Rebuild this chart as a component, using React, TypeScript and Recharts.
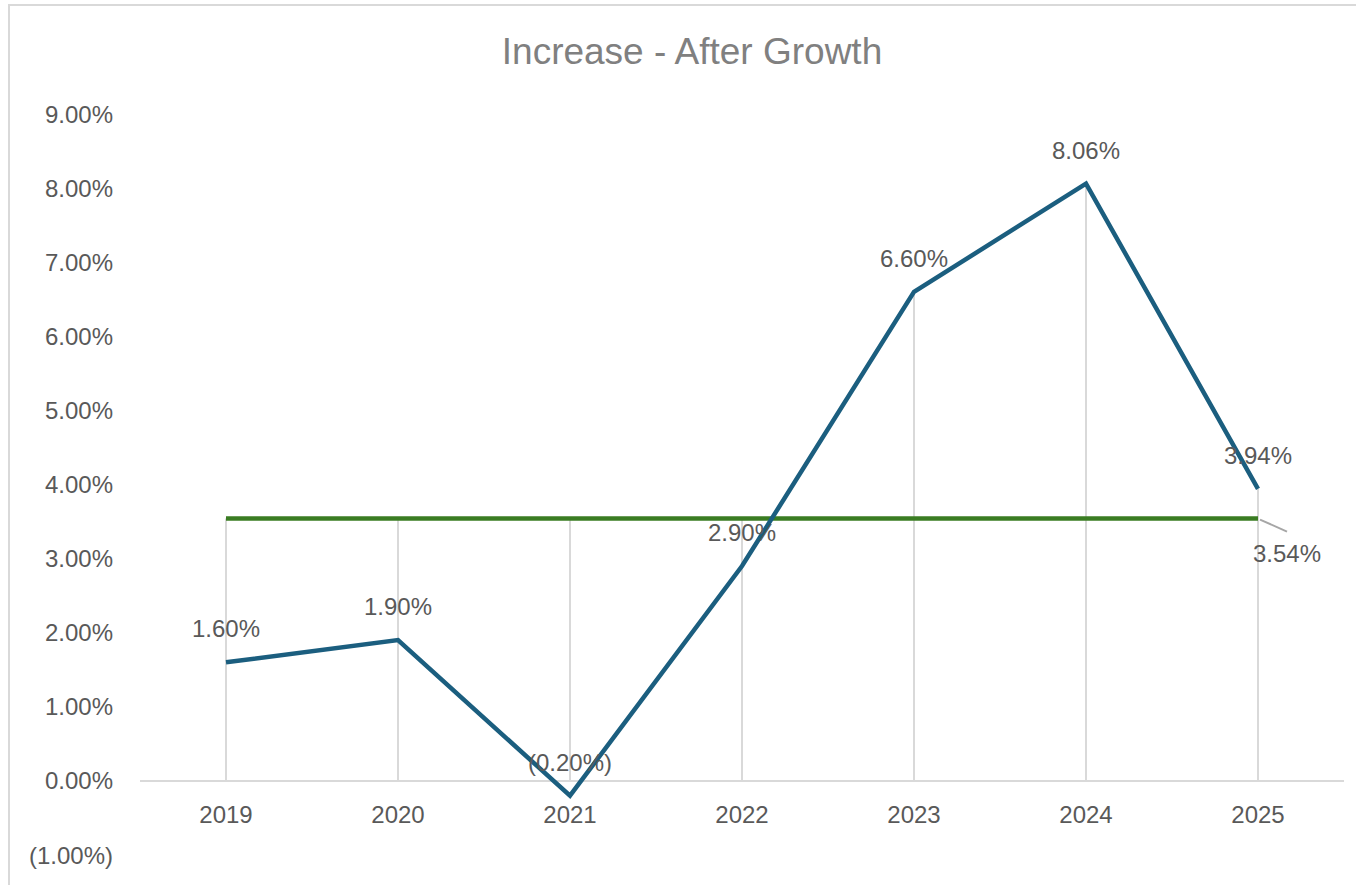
import {
  ComposedChart,
  Line,
  XAxis,
  YAxis,
  ReferenceLine,
  LabelList
} from "recharts"

const years = ["2019", "2020", "2021", "2022", "2023", "2024", "2025"]
const growth = [1.6, 1.9, -0.2, 2.9, 6.6, 8.06, 3.94]
const average = [3.54, 3.54, 3.54, 3.54, 3.54, 3.54, 3.54]
const yTicks = [-1, 0, 1, 2, 3, 4, 5, 6, 7, 8, 9]

const data = years.map((year, i) => ({
  year,
  growth: growth[i],
  avg: average[i],
  top: Math.max(growth[i], average[i], 0)
}))

const FONT = "'Liberation Sans', Arial, sans-serif"
const TEXT = "#595959"

const pct = (v: number) =>
  v < 0 ? `(${Math.abs(v).toFixed(2)}%)` : `${v.toFixed(2)}%`

function YearTick({ x, y, payload }: any) {
  return (
    <text x={x} y={y - 49} textAnchor="middle" dominantBaseline="central"
      fill={TEXT} fontSize={24} fontFamily={FONT}>
      {payload.value}
    </text>
  )
}

// only the last point of the average line gets a label, with a leader line
function AvgLabel({ x, y, index, value }: any) {
  if (index !== years.length - 1) return null
  return (
    <g>
      <line x1={x + 2} y1={y + 1} x2={x + 29} y2={y + 13} stroke="#a6a6a6" strokeWidth={2} />
      <text x={x + 29} y={y + 35} textAnchor="middle" dominantBaseline="central"
        fill={TEXT} fontSize={24} fontFamily={FONT}>
        {pct(value)}
      </text>
    </g>
  )
}

export default function App() {
  return (
    <div style={{ position: "fixed", left: 0, top: 0, width: 1356, height: 885, overflow: "hidden", background: "#fff" }}>
      <div style={{ position: "absolute", left: 8, top: 4, width: 1400, height: 900, border: "2px solid #d9d9d9", background: "#fff" }}>
        <ComposedChart
          width={1360}
          height={890}
          data={data}
          margin={{ top: 108, right: 26, bottom: 11, left: 0 }}
        >
          <XAxis
            dataKey="year"
            scale="band"
            axisLine={false}
            tickLine={false}
            height={30}
            tick={<YearTick />}
          />
          <YAxis
            domain={[-1, 9]}
            ticks={yTicks}
            width={130}
            axisLine={false}
            tickLine={false}
            tickSize={0}
            tickMargin={27}
            tickFormatter={pct}
            tick={{ fill: TEXT, fontSize: 24, fontFamily: FONT }}
          />

          {/* drop lines */}
          {data.map((d) => (
            <ReferenceLine
              key={d.year}
              segment={[{ x: d.year, y: d.top }, { x: d.year, y: 0 }]}
              stroke="#d9d9d9"
              strokeWidth={2}
            />
          ))}
          <ReferenceLine y={0} stroke="#d9d9d9" strokeWidth={2} />

          <Line
            dataKey="avg"
            stroke="#3a7c22"
            strokeWidth={4.5}
            dot={false}
            isAnimationActive={false}
          >
            <LabelList dataKey="avg" content={<AvgLabel />} />
          </Line>

          <Line
            dataKey="growth"
            stroke="#1b5e7f"
            strokeWidth={4.5}
            dot={false}
            isAnimationActive={false}
          >
            <LabelList
              dataKey="growth"
              position="top"
              offset={25}
              formatter={(v: any) => pct(Number(v))}
              fill={TEXT}
              fontSize={24}
              fontFamily={FONT}
            />
          </Line>
        </ComposedChart>
      </div>
      <div style={{ position: "absolute", left: 0, top: 33, width: 1384, textAlign: "center", fontFamily: FONT, fontSize: 37, lineHeight: "37px", color: "#808080" }}>
        Increase - After Growth
      </div>
    </div>
  )
}
